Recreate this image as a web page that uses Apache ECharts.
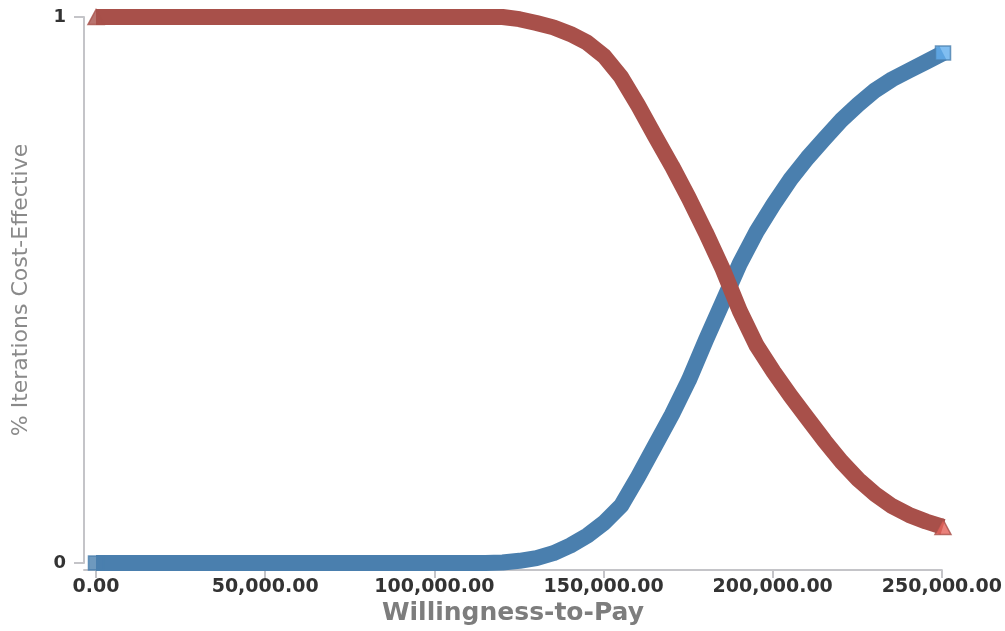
<!DOCTYPE html>
<html>
<head>
<meta charset="utf-8">
<script src="https://cdn.jsdelivr.net/npm/echarts@6/dist/echarts.min.js"></script>
<style>
html,body{margin:0;padding:0;background:#fff;}
#chart{width:1005px;height:631px;}
</style>
</head>
<body>
<div id="chart"></div>
<script>
// Willingness-to-pay thresholds
const wtp = [0,5000,10000,15000,20000,25000,30000,35000,40000,45000,
  50000,55000,60000,65000,70000,75000,80000,85000,90000,95000,
  100000,105000,110000,115000,120000,125000,130000,135000,140000,145000,
  150000,155000,160000,165000,170000,175000,180000,185000,190000,195000,
  200000,205000,210000,215000,220000,225000,230000,235000,240000,245000,250000];
// Share of iterations cost-effective (blue: squares)
const blueSeries = [0,0,0,0,0,0,0,0,0,0,
  0,0,0,0,0,0,0,0,0,0,
  0,0,0,0,0.001,0.004,0.009,0.018,0.032,0.050,
  0.074,0.105,0.158,0.215,0.272,0.335,0.408,0.478,0.548,0.607,
  0.657,0.703,0.742,0.777,0.811,0.840,0.866,0.886,0.902,0.918,0.934];
// Share of iterations cost-effective (red: triangles)
const redSeries = [1,1,1,1,1,1,1,1,1,1,
  1,1,1,1,1,1,1,1,1,1,
  1,1,1,1,1,0.996,0.989,0.981,0.969,0.953,
  0.928,0.890,0.838,0.782,0.727,0.668,0.605,0.538,0.462,0.398,
  0.350,0.306,0.265,0.224,0.186,0.153,0.126,0.104,0.088,0.076,0.066];
const xTicks = [0,50000,100000,150000,200000,250000];
const yTicks = [0,1];

const BLUE = '#4a7fae', BLUE_FILL = '#62aeee';
const RED = '#a8504a', RED_FILL = '#e4625a';
const AXIS = '#c4c4c8';

const pairs = (ys) => wtp.map((x, i) => [x, ys[i]]);
const ends = (ys) => [[wtp[0], ys[0]], [wtp[wtp.length-1], ys[ys.length-1]]];

const fmt = (v) => Number(v).toLocaleString('en-US', {minimumFractionDigits: 2, maximumFractionDigits: 2});

const chart = echarts.init(document.getElementById('chart'), null, {renderer: 'canvas'});
chart.setOption({
  animation: false,
  backgroundColor: '#fff',
  grid: [
    {left: 84, right: 62, top: 17, bottom: 68},
    {left: 84, right: 62, top: 17, bottom: 59}
  ],
  xAxis: [
    {gridIndex: 0, type: 'value', min: -3542, max: 250000, show: false},
    {gridIndex: 1, type: 'value', min: -3542, max: 250000,
      splitLine: {show: false},
      axisLine: {show: true, onZero: false, lineStyle: {color: AXIS, width: 2}},
      axisTick: {show: true, length: 8, customValues: xTicks, lineStyle: {color: AXIS, width: 2}},
      axisLabel: {customValues: xTicks, formatter: fmt, margin: 7,
        fontFamily: 'DejaVu Sans', fontWeight: 'bold', fontSize: 19, color: '#333'},
      name: 'Willingness-to-Pay', nameLocation: 'middle', nameGap: 24,
      nameTextStyle: {fontFamily: 'DejaVu Sans', fontWeight: 'bold', fontSize: 25, color: '#7d7d7d'}
    }
  ],
  yAxis: [
    {gridIndex: 0, type: 'value', min: 0, max: 1,
      splitLine: {show: false},
      axisLine: {show: true, onZero: false, lineStyle: {color: AXIS, width: 2}},
      axisTick: {show: true, length: 10, customValues: yTicks, lineStyle: {color: AXIS, width: 2}},
      axisLabel: {customValues: yTicks, margin: 18,
        fontFamily: 'DejaVu Sans', fontWeight: 'bold', fontSize: 18, color: '#333'},
      name: '% Iterations Cost-Effective', nameLocation: 'middle', nameGap: 52,
      nameTextStyle: {fontFamily: 'DejaVu Sans', fontSize: 22, color: '#8a8a8a'}
    },
    {gridIndex: 1, type: 'value', min: 0, max: 1, show: false}
  ],
  series: [
    {type: 'line', xAxisIndex: 0, yAxisIndex: 0, data: pairs(blueSeries),
      showSymbol: false, smooth: false, clip: false,
      lineStyle: {color: BLUE, width: 16, cap: 'butt', join: 'round'}, z: 2},
    {type: 'line', xAxisIndex: 0, yAxisIndex: 0, data: pairs(redSeries),
      showSymbol: false, smooth: false, clip: false,
      lineStyle: {color: RED, width: 16, cap: 'butt', join: 'round'}, z: 3},
    {type: 'scatter', xAxisIndex: 0, yAxisIndex: 0, data: ends(blueSeries),
      symbol: 'rect', symbolSize: [15, 14], clip: false,
      itemStyle: {color: function(p){ return p.dataIndex === 1 ? BLUE_FILL : BLUE; }, borderColor: BLUE, borderWidth: 1.5}, z: 4},
    {type: 'scatter', xAxisIndex: 0, yAxisIndex: 0, data: ends(redSeries),
      symbol: 'triangle', symbolSize: [16, 15], clip: false,
      itemStyle: {color: function(p){ return p.dataIndex === 1 ? RED_FILL : RED; }, borderColor: RED, borderWidth: 1.5}, z: 5}
  ]
});
</script>
</body>
</html>
